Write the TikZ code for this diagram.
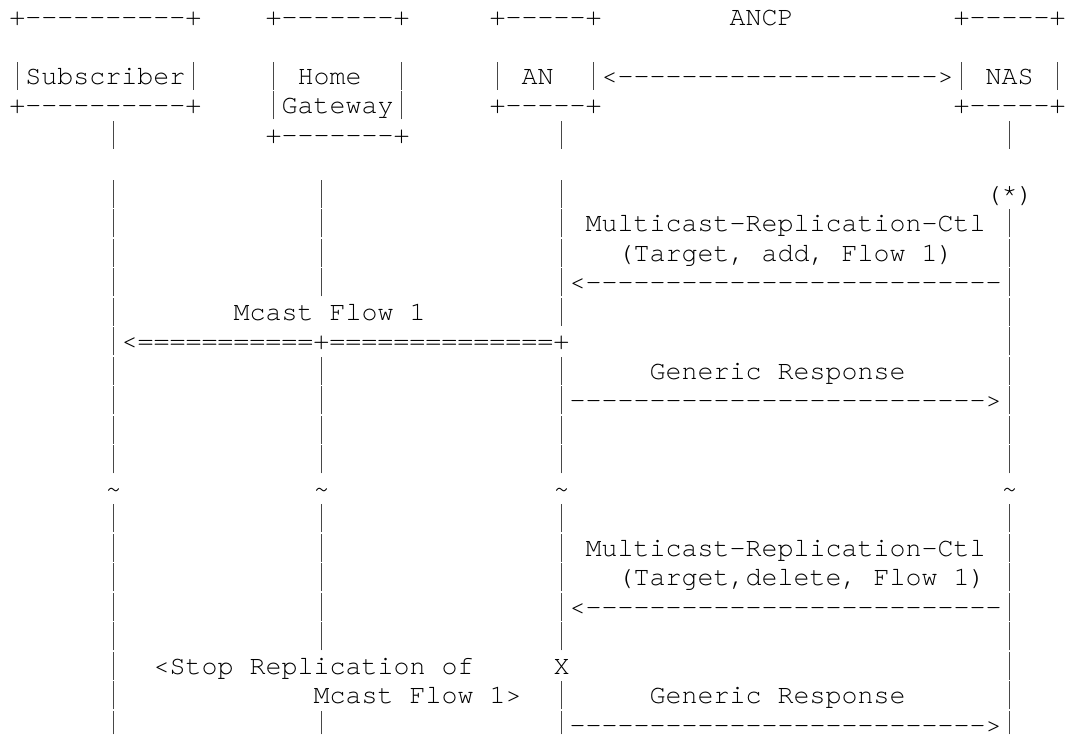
\documentclass[tikz,border=0pt]{standalone}
\usepackage{fontspec}
\setmonofont{texgyrecursor-regular.otf}
\tikzset{
  asc/.style={inner sep=0pt, outer sep=0pt, anchor=base west,
    font=\ttfamily\fontsize{20}{22}\selectfont, text=black}
}
% one monospace cell: 12pt wide, rows 22.125pt apart
\newcommand\cell[4]{\node[asc] (#1) at ({(7.125+12*#3)*1pt},{-(19.1+22.125*#2)*1pt}) {#4};}
% a vertical bar filling almost the whole row height
\newcommand\vb{\makebox[12pt][c]{\textcolor{black!72}{\rule[-4.1pt]{1.1pt}{21pt}}}}
% the same bar in the last row, ending at the lower edge of the page
\newcommand\vbe{\makebox[12pt][c]{\textcolor{black!72}{\rule[-0.6pt]{1.1pt}{17.5pt}}}}
\begin{document}
\begin{tikzpicture}
\useasboundingbox (0,0) rectangle (801pt,-551.25pt);
% boxes of the four parties
\cell{subTop}{0}{0}{+----------+}
\cell{hgTop}{0}{16}{+-------+}
\cell{anTop}{0}{30}{+-----+}
\cell{ancp}{0}{45}{ANCP}
\cell{nasTop}{0}{59}{+-----+}
\cell{subName}{2}{0}{\vb Subscriber\vb}
\cell{hgName}{2}{16}{\vb~Home~~\vb}
\cell{anName}{2}{30}{\vb~AN~~\vb}
\cell{ancpLink}{2}{37}{<-------------------->}
\cell{nasName}{2}{59}{\vb~NAS~\vb}
\cell{subBot}{3}{0}{+----------+}
\cell{hgName2}{3}{16}{\vb Gateway\vb}
\cell{anBot}{3}{30}{+-----+}
\cell{nasBot}{3}{59}{+-----+}
\cell{hgBot}{4}{16}{+-------+}
% lifelines
\foreach \r in {4,6,7,8,9,10,12,13,14,15,17,18,19,20,21,22,23}
  \cell{subL\r}{\r}{6}{\vb};
\foreach \r in {6,7,8,9,12,13,14,15,17,18,19,20,21}
  \cell{hgL\r}{\r}{19}{\vb};
\foreach \r in {4,6,7,8,10,12,14,15,17,18,19,21,23}
  \cell{anL\r}{\r}{34}{\vb};
\foreach \r in {4,7,8,10,11,12,14,15,17,18,19,21,22,23}
  \cell{nasL\r}{\r}{62}{\vb};
\cell{subL24}{24}{6}{\vbe}
\cell{hgL24}{24}{19}{\vbe}
% time breaks
\cell{subT}{16}{6}{\textasciitilde}
\cell{hgT}{16}{19}{\textasciitilde}
\cell{anT}{16}{34}{\textasciitilde}
\cell{nasT}{16}{62}{\textasciitilde}
% add flow
\cell{star}{6}{61}{(*)}
\cell{mrc1}{7}{36}{Multicast-Replication-Ctl}
\cell{mrc1p}{8}{38}{(Target, add, Flow 1)}
\cell{mrc1a}{9}{34}{\vb<--------------------------\vb}
\cell{flow1}{10}{14}{Mcast Flow 1}
\cell{flow1a}{11}{6}{\vb<===========+==============+}
\cell{gr1}{12}{40}{Generic Response}
\cell{gr1a}{13}{34}{\vb-------------------------->\vb}
% delete flow
\cell{mrc2}{18}{36}{Multicast-Replication-Ctl}
\cell{mrc2p}{19}{38}{(Target,delete, Flow 1)}
\cell{mrc2a}{20}{34}{\vb<--------------------------\vb}
\cell{stop1}{22}{9}{<Stop Replication of}
\cell{stopX}{22}{34}{X}
\cell{stop2}{23}{19}{Mcast Flow 1>}
\cell{gr2}{23}{40}{Generic Response}
\cell{gr2a}{24}{34}{\vbe-------------------------->\vbe}
\end{tikzpicture}
\end{document}
